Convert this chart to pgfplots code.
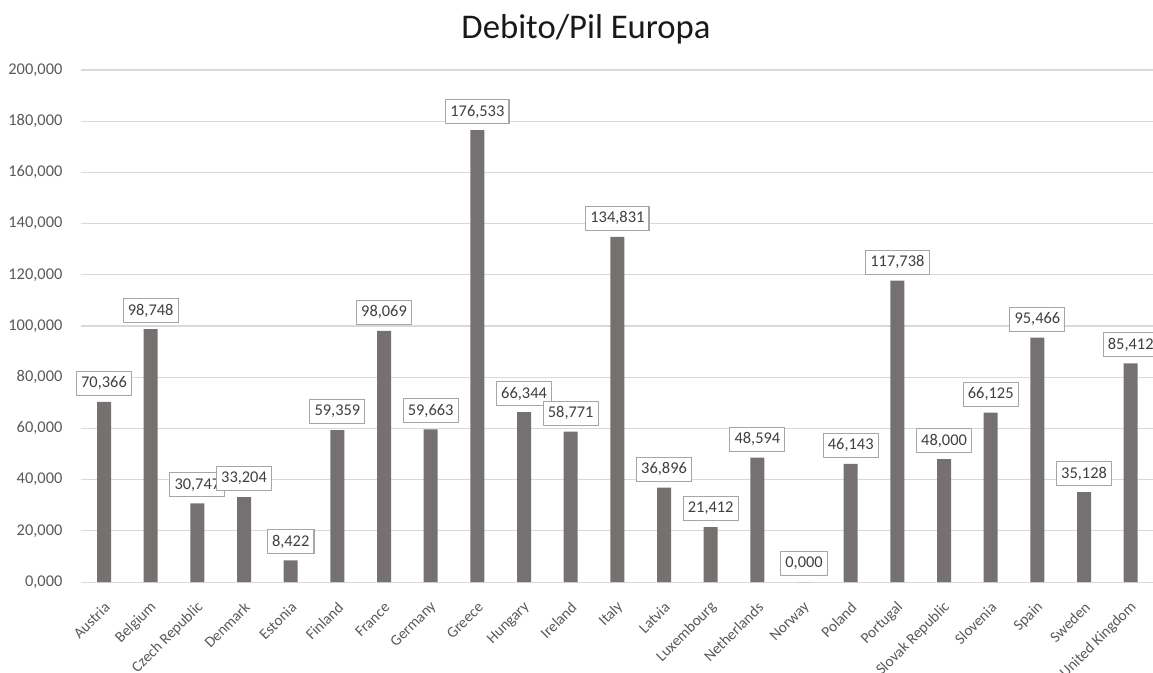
\documentclass[border=0pt]{standalone}
\usepackage{pgfplots}
\pgfplotsset{compat=1.18}
\usepackage{pgfplotstable}
\usepackage{fontspec}
\setmainfont{Carlito}
\definecolor{barc}{HTML}{767171}
\definecolor{gridc}{HTML}{D9D9D9}
\definecolor{tickc}{HTML}{595959}
\definecolor{boxc}{HTML}{A6A6A6}
\definecolor{lblc}{HTML}{404040}

\pgfplotstableread{
idx value
0 70.366
1 98.748
2 30.747
3 33.204
4 8.422
5 59.359
6 98.069
7 59.663
8 176.533
9 66.344
10 58.771
11 134.831
12 36.896
13 21.412
14 48.594
15 0.000
16 46.143
17 117.738
18 48.000
19 66.125
20 95.466
21 35.128
22 85.412
}\datatable

\begin{document}
\begin{tikzpicture}
\begin{axis}[
  scale only axis,
  width=805pt, height=384pt,
  xmin=-0.5, xmax=22.5,
  ymin=0, ymax=200,
  ytick={0,20,...,200},
  xtick=data,
  xticklabels={Austria,Belgium,Czech Republic,Denmark,Estonia,Finland,France,Germany,Greece,Hungary,Ireland,Italy,Latvia,Luxembourg,Netherlands,Norway,Poland,Portugal,Slovak Republic,Slovenia,Spain,Sweden,United Kingdom},
  axis x line*=bottom,
  axis y line*=left,
  x axis line style={draw=gridc, line width=0.8pt},
  y axis line style={draw=none},
  major tick length=0pt,
  ymajorgrids,
  grid style={draw=gridc, line width=0.8pt},
  /pgf/number format/assume math mode=true,
  yticklabel={\pgfmathprintnumber[fixed,fixed zerofill,precision=3,use comma,1000 sep={}]{\tick}},
  yticklabel style={font=\fontsize{12.3pt}{14pt}\selectfont, text=tickc, anchor=east, inner sep=0pt, xshift=-13.5pt},
  xticklabel style={font=\fontsize{11.5pt}{13pt}\selectfont, text=tickc, anchor=east, inner sep=0pt, xshift=2.5pt, yshift=-17pt, rotate=45},
  ybar,
  bar width=10.5pt,
  nodes near coords={\pgfmathprintnumber[fixed,fixed zerofill,precision=3,use comma,1000 sep={}]{\pgfplotspointmeta}},
  every node near coord/.append style={font=\fontsize{12.3pt}{14pt}\selectfont, text=lblc, draw=boxc, line width=0.8pt, fill=white, anchor=south, inner xsep=3.5pt, inner ysep=0pt, minimum height=18pt, yshift=4.5pt},
  clip=false,
]
\addplot[fill=barc, draw=none] table[x=idx, y=value] {\datatable};
\end{axis}
\node[anchor=base, font=\fontsize{26pt}{30pt}\selectfont, text=black!90] at (379pt,407.5pt) {Debito/Pil Europa};
\pgfresetboundingbox
\path[use as bounding box] (-60.5pt,-67.5pt) rectangle (804.2pt,436.5pt);
\end{tikzpicture}
\end{document}
